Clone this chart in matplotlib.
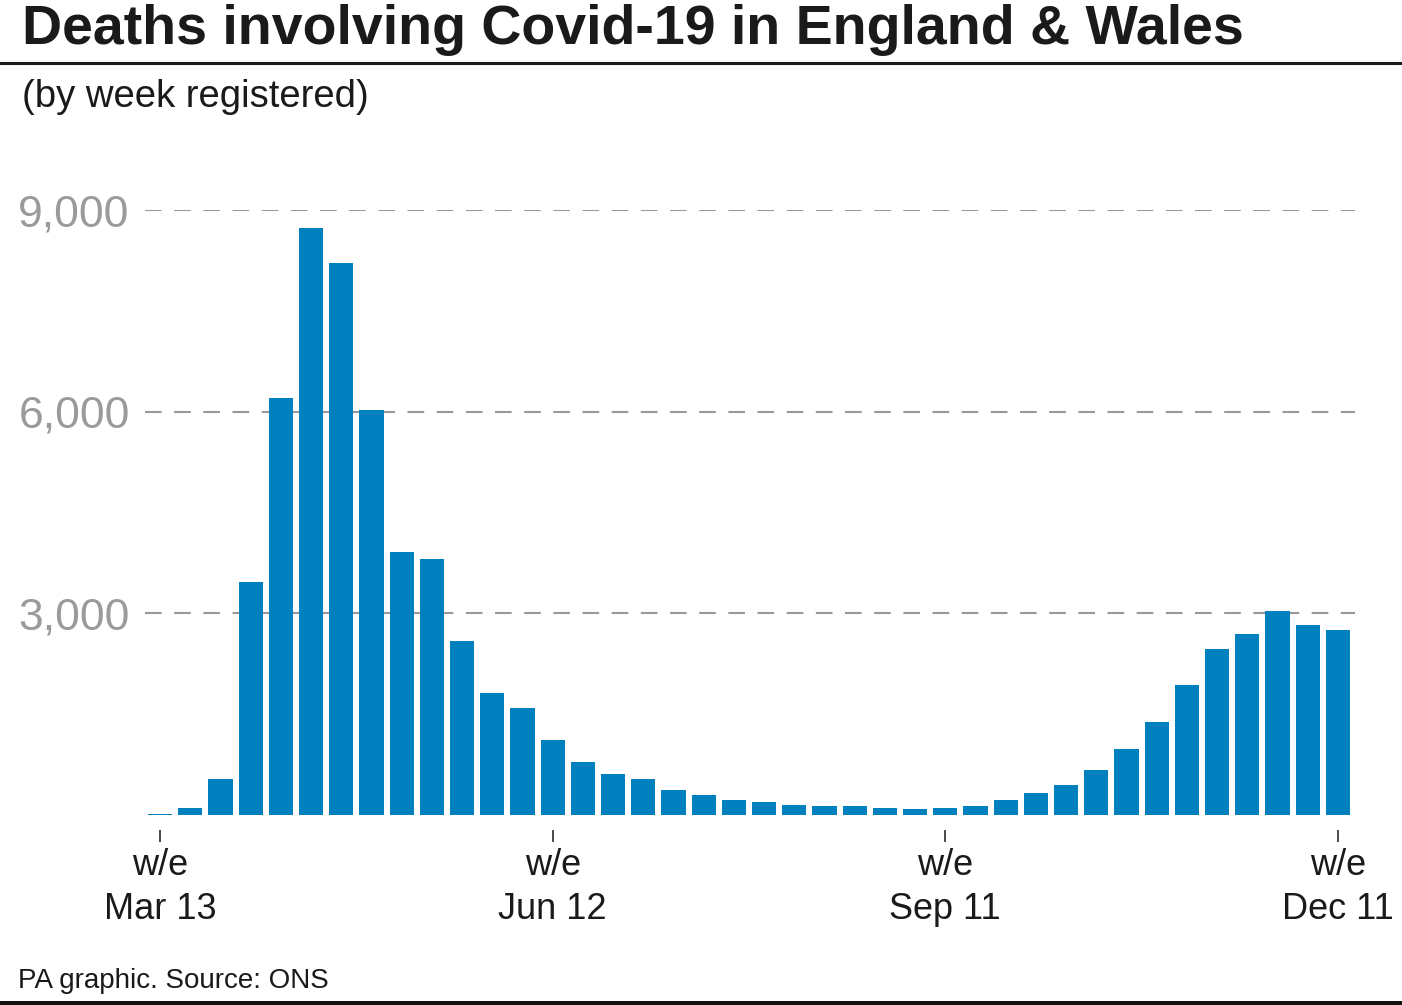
import matplotlib
matplotlib.use('Agg')
import matplotlib.pyplot as plt
from matplotlib.lines import Line2D

# weekly deaths involving Covid-19, w/e Mar 13 to w/e Dec 11 (40 weeks)
weeks = list(range(40))
deaths = [10, 107, 537, 3471, 6203, 8738, 8219, 6024, 3918, 3805,
          2583, 1819, 1586, 1117, 787, 608, 535, 366, 297, 218,
          198, 153, 139, 139, 104, 84, 104, 139, 218, 327,
          441, 673, 975, 1381, 1936, 2465, 2698, 3040, 2832, 2752]
tick_weeks = [0, 13, 26, 39]
tick_labels = ['w/e\nMar 13', 'w/e\nJun 12', 'w/e\nSep 11', 'w/e\nDec 11']
y_ticks = [3000, 6000, 9000]
y_labels = ['3,000', '6,000', '9,000']

W, H = 1402, 1005
plt.rcParams['font.family'] = ['Liberation Sans', 'DejaVu Sans']
fig = plt.figure(figsize=(W / 100, H / 100), dpi=100)

# axes placed in pixel terms
left, right, bottom, top = 145, 1355, 815, 210
ax = fig.add_axes([left / W, 1 - bottom / H, (right - left) / W, (bottom - top) / H])

# move the (hidden) bottom spine down first: set_position resets the ticks
ax.spines['bottom'].set_position(('outward', 11))
for s in ax.spines.values():
    s.set_visible(False)

ax.bar(weeks, deaths, width=0.8, color='#0080bf', zorder=3)

ax.set_xlim(-0.5, -0.5 + (right - left) / 30.2)
ax.set_ylim(0, 9000)

ax.set_yticks(y_ticks)
ax.set_yticklabels(y_labels)
ax.tick_params(axis='y', length=0, pad=11, labelsize=32, labelcolor='#9a9a9a')
ax.yaxis.grid(True, color='#999999', linestyle=(0, (8, 6)), linewidth=1.5, zorder=0)

ax.set_xticks(tick_weeks)
ax.set_xticklabels(tick_labels, linespacing=1.35)
ax.tick_params(axis='x', length=8.6, width=1.1, color='#1a1a1a', pad=4,
               labelsize=26, labelcolor='#1a1a1a')

# title block
fig.text(22 / W, 1 - 44 / H, 'Deaths involving Covid-19 in England & Wales',
         fontsize=40, fontweight='bold', color='#1a1a1a', va='baseline')
fig.add_artist(Line2D([0, 1], [1 - 63 / H, 1 - 63 / H], transform=fig.transFigure,
                      color='#1a1a1a', linewidth=2.2))
fig.text(22 / W, 1 - 107 / H, '(by week registered)',
         fontsize=27.5, color='#1a1a1a', va='baseline')

# footer
fig.text(18 / W, 1 - 988 / H, 'PA graphic. Source: ONS',
         fontsize=20, color='#1a1a1a', va='baseline')
fig.add_artist(Line2D([0, 1], [1 - 1002.5 / H, 1 - 1002.5 / H], transform=fig.transFigure,
                      color='#111111', linewidth=3.6))

fig.savefig('out.png', dpi=100)
